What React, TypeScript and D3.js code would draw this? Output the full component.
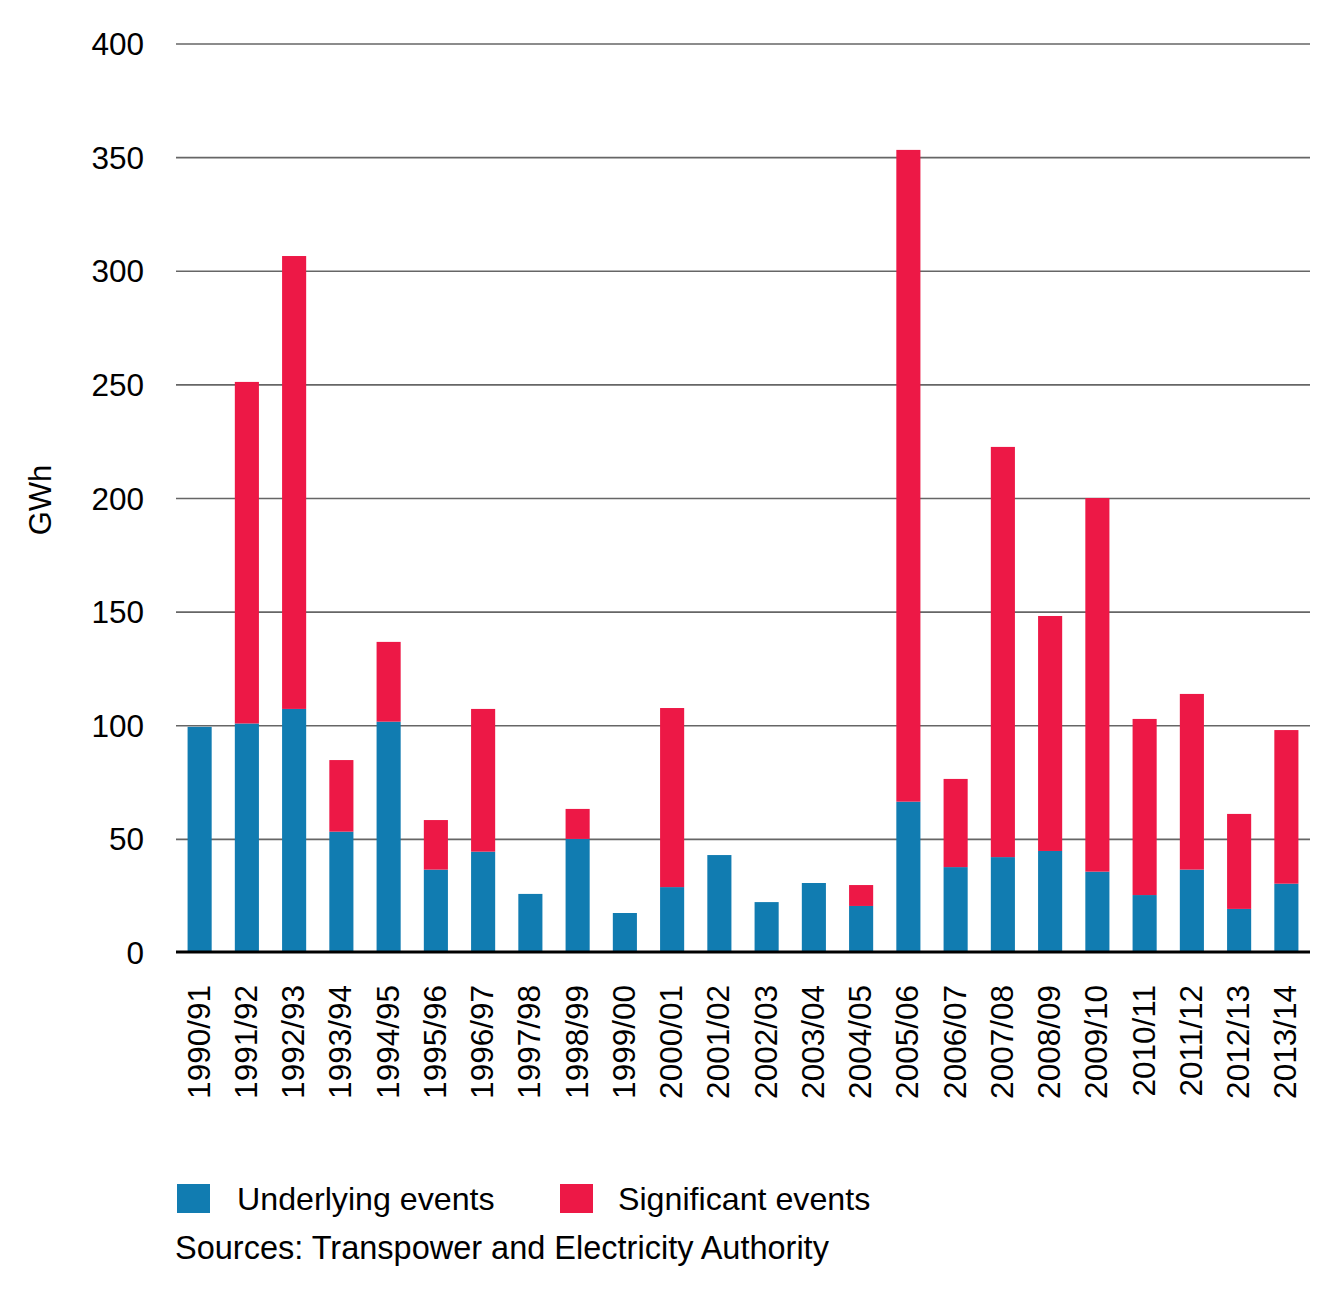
import * as d3 from 'd3';
import { useEffect, useRef } from 'react';

// Financial years on the x axis
const years = [
  '1990/91', '1991/92', '1992/93', '1993/94', '1994/95', '1995/96', '1996/97', '1997/98',
  '1998/99', '1999/00', '2000/01', '2001/02', '2002/03', '2003/04', '2004/05', '2005/06',
  '2006/07', '2007/08', '2008/09', '2009/10', '2010/11', '2011/12', '2012/13', '2013/14',
];

// GWh of unserved energy
const underlying = [
  99.5, 101, 107.4, 53.4, 101.8, 36.7, 44.6, 26.0, 50.2, 17.6, 29.0, 43.1,
  22.4, 30.8, 20.7, 66.6, 37.8, 42.2, 44.9, 35.8, 25.5, 36.7, 19.4, 30.5,
];
const significant = [
  0, 150.3, 199.3, 31.5, 35.1, 21.8, 62.8, 0, 13.2, 0, 78.8, 0,
  0, 0, 9.2, 286.8, 38.8, 180.5, 103.4, 164.4, 77.5, 77.3, 41.8, 67.6,
];

const yTicks = [0, 50, 100, 150, 200, 250, 300, 350, 400];
const seriesNames = ['Underlying events', 'Significant events'];
const colors = ['#117cb1', '#ed1846'];

const FONT = '"Liberation Sans", Arial, Helvetica, sans-serif';

const App = () => {
  const svgRef = useRef<SVGSVGElement | null>(null);

  useEffect(() => {
    if (!svgRef.current) return;
    const svg = d3.select(svgRef.current);
    svg.selectAll('*').remove();

    const rows = years.map((year, i) => ({
      year,
      underlying: underlying[i],
      significant: significant[i],
    }));

    const left = 176;
    const right = 1310;
    const top = 44;
    const bottom = 953;

    const x = d3.scaleBand()
      .domain(years)
      .range([left, right])
      .paddingInner(0.49)
      .paddingOuter(0.245);

    const y = d3.scaleLinear().domain([0, 400]).range([bottom, top]);

    const stacked = d3.stack<any>().keys(['underlying', 'significant'])(rows);

    // Gridlines (behind bars)
    svg.append('g')
      .selectAll('line')
      .data(yTicks.filter(t => t > 0))
      .join('line')
      .attr('x1', left)
      .attr('x2', right)
      .attr('y1', d => y(d))
      .attr('y2', d => y(d))
      .attr('stroke', '#666')
      .attr('stroke-width', 1.7);

    // Y tick labels
    svg.append('g')
      .selectAll('text')
      .data(yTicks)
      .join('text')
      .attr('x', 144)
      .attr('y', d => y(d))
      .attr('dy', '0.35em')
      .attr('text-anchor', 'end')
      .style('font-family', FONT)
      .style('font-size', '31.5px')
      .style('fill', '#000')
      .text(d => d);

    // Stacked bars
    svg.append('g')
      .selectAll('g')
      .data(stacked)
      .join('g')
      .attr('fill', (_, i) => colors[i])
      .selectAll('rect')
      .data(d => d)
      .join('rect')
      .attr('x', d => x(d.data.year) || 0)
      .attr('width', x.bandwidth())
      .attr('y', d => y(d[1]))
      .attr('height', d => Math.max(0, y(d[0]) - y(d[1])));

    // Baseline
    svg.append('line')
      .attr('x1', left)
      .attr('x2', right)
      .attr('y1', bottom - 1)
      .attr('y2', bottom - 1)
      .attr('stroke', '#000')
      .attr('stroke-width', 3);

    // X tick labels, rotated
    svg.append('g')
      .selectAll('text')
      .data(years)
      .join('text')
      .attr('transform', d => `translate(${(x(d) || 0) + x.bandwidth() / 2 - 1},985) rotate(-90)`)
      .attr('dy', '0.35em')
      .attr('text-anchor', 'end')
      .style('font-family', FONT)
      .style('font-size', '31.5px')
      .style('fill', '#000')
      .text(d => d);

    // Y axis title
    svg.append('text')
      .attr('transform', 'translate(40,500) rotate(-90)')
      .attr('dy', '0.35em')
      .attr('text-anchor', 'middle')
      .style('font-family', FONT)
      .style('font-size', '31px')
      .style('fill', '#000')
      .text('GWh');

    // Legend
    const legendX = [177, 560];
    const legend = svg.append('g')
      .selectAll('g')
      .data(seriesNames)
      .join('g')
      .attr('transform', (_, i) => `translate(${legendX[i]},1184)`);

    legend.append('rect')
      .attr('width', 33)
      .attr('height', 29)
      .attr('fill', (_, i) => colors[i]);

    legend.append('text')
      .attr('x', (_, i) => (i === 0 ? 60 : 58))
      .attr('y', 15)
      .attr('dy', '0.35em')
      .style('font-family', FONT)
      .style('font-size', '32.2px')
      .style('fill', '#000')
      .text(d => d);

    // Source note
    svg.append('text')
      .attr('x', 175)
      .attr('y', 1248)
      .attr('dy', '0.35em')
      .style('font-family', FONT)
      .style('font-size', '32.5px')
      .style('fill', '#000')
      .text('Sources: Transpower and Electricity Authority');
  }, []);

  return (
    <svg
      ref={svgRef}
      width={1340}
      height={1298}
      style={{ position: 'absolute', left: 0, top: 0, background: '#fff' }}
    ></svg>
  );
};

export default App;
